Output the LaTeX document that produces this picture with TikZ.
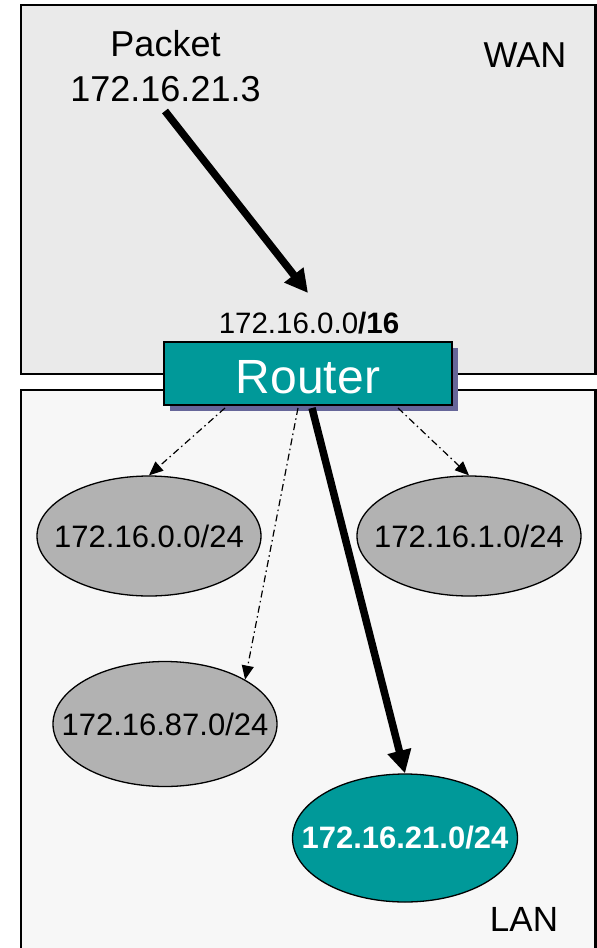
\documentclass[tikz,border=0pt]{standalone}
\usepackage{fontspec}
\setmainfont{Liberation Sans}
\usetikzlibrary{arrows.meta,shadows,shapes.geometric}
\definecolor{wanfill}{HTML}{EAEAEA}
\definecolor{lanfill}{HTML}{F7F7F7}
\definecolor{tealfill}{HTML}{009999}
\definecolor{shadefill}{HTML}{666699}
\definecolor{netgray}{HTML}{B2B2B2}
\newcommand{\zw}[1]{\makebox[0pt][c]{#1}}
\begin{document}
\begin{tikzpicture}[x=1pt,y=-1pt,
  areabox/.style={line width=2.2pt},
  net/.style={ellipse, draw, line width=1.3pt, fill=netgray, inner sep=0pt,
    font=\fontsize{31}{37}\selectfont},
  bigtext/.style={anchor=base, inner sep=0pt, font=\fontsize{36}{44}\selectfont},
  thickarrow/.style={line width=7.5pt, -{Triangle[length=23pt,width=23pt]}},
  ddarrow/.style={line width=1.2pt, dash pattern=on 7pt off 3.5pt on 1.5pt off 3.5pt,
    -{Triangle[length=14pt,width=12pt]}}
]
\useasboundingbox[fill=white] (0,0) rectangle (597,948);
% WAN area
\fill[wanfill] (21,5) rectangle (595.5,373.7);
\draw[areabox] (21,5) rectangle (595.5,373.7);
% LAN area
\fill[lanfill] (21,390) rectangle (595.5,948);
\draw[areabox] (21,955) -- (21,390) -- (595.5,390) -- (595.5,955);

% texts in WAN
\node[bigtext] (pkt) at (165.5,56.7) {Packet};
\node[bigtext] (pktaddr) at (165.5,101.7) {172.16.21.3};
\node[bigtext] (wan) at (525,67) {WAN};
\node[anchor=base, inner sep=0pt, font=\fontsize{29.5}{34}\selectfont] (rnet) at (309,333.3) {172.16.0.0\textbf{/16}};

% router
\node[draw, line width=2.5pt, fill=tealfill, minimum width=288pt, minimum height=63pt,
  inner sep=0pt, drop shadow={shadow xshift=5.5pt, shadow yshift=-5.5pt, fill=shadefill, opacity=1}]
  (router) at (308,373.5) {};
\node[anchor=base, inner sep=0pt, text=white, font=\fontsize{48}{56}\selectfont] (routerlbl) at (308,393.3) {Router};

% networks
\node[net, minimum width=224pt, minimum height=120pt] (e1) at (149,536) {\zw{172.16.0.0/24}};
\node[net, minimum width=224pt, minimum height=120pt] (e2) at (469,536) {\zw{172.16.1.0/24}};
\node[net, minimum width=224pt, minimum height=125pt] (e3) at (165,724) {\zw{172.16.87.0/24}};
\node[net, fill=tealfill, text=white, font=\fontsize{31}{37}\selectfont\bfseries,
  minimum width=225pt, minimum height=128pt] (e4) at (405,838) {\zw{172.16.21.0/24}};

\node[bigtext, font=\fontsize{35}{42}\selectfont] (lan) at (524,931.7) {LAN};

% arrows
\coordinate (a1s) at (165,111);
\coordinate (a1e) at (308,293);
\draw[thickarrow] (a1s) -- (a1e);

\coordinate (d1s) at (225,408);
\coordinate (d2s) at (398,408);
\coordinate (d3s) at (298,408);
\coordinate (a2s) at (312,408);
\draw[ddarrow] (d1s) -- (e1.north);
\draw[ddarrow] (d2s) -- (e2.north);
\draw[ddarrow] (d3s) -- (e3.29);
\draw[thickarrow] (a2s) -- (e4.north);
\end{tikzpicture}
\end{document}
